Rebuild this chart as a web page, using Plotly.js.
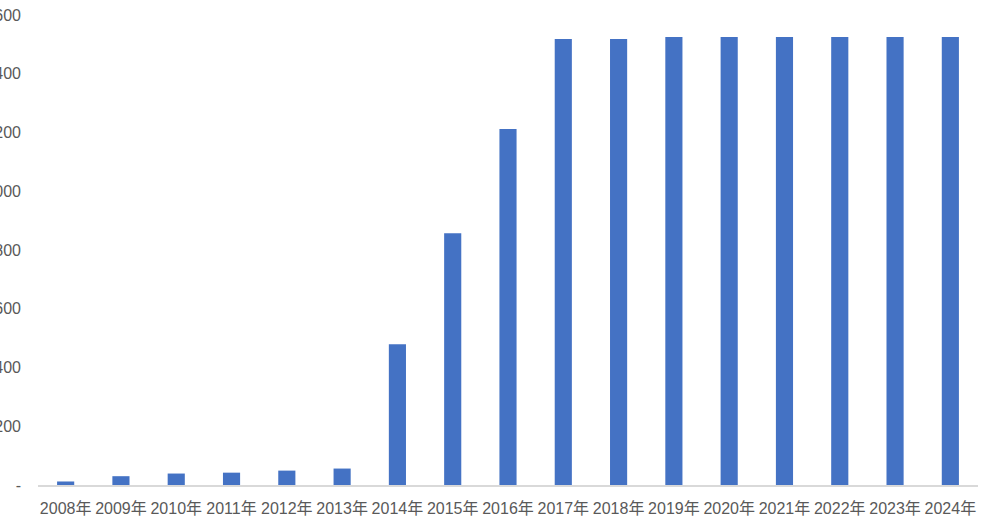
<!DOCTYPE html>
<html>
<head>
<meta charset="utf-8">
<script src="https://cdn.plot.ly/plotly-3.0.1.min.js"></script>
<style>
  html, body { margin: 0; padding: 0; background: #fff; overflow: hidden; }
  #wrap { position: relative; width: 987px; height: 521px; overflow: hidden; }
  #chart { position: absolute; left: -40px; top: 0; width: 1027px; height: 521px; }
</style>
</head>
<body>
<div id="wrap"><div id="chart"></div></div>
<script>
const years = ["2008年","2009年","2010年","2011年","2012年","2013年","2014年","2015年","2016年","2017年","2018年","2019年","2020年","2021年","2022年","2023年","2024年"];
const values = [12, 30, 39, 42, 49, 56, 479, 857, 1212, 1518, 1518, 1525, 1525, 1525, 1525, 1525, 1525];
const yTickVals = [0, 200, 400, 600, 800, 1000, 1200, 1400, 1600];
const yTickText = ["-", "200", "400", "600", "800", "1,000", "1,200", "1,400", "1,600"];

const font = '"Liberation Sans", "Noto Sans CJK SC", sans-serif';

Plotly.newPlot('chart', [{
  type: 'bar',
  x: years,
  y: values,
  marker: { color: '#4472C4' },
  hoverinfo: 'none'
}], {
  width: 1027,
  height: 521,
  margin: { l: 78, r: 9, t: 15, b: 36 },
  paper_bgcolor: '#ffffff',
  plot_bgcolor: '#ffffff',
  bargap: 0.69,
  showlegend: false,
  font: { family: font, size: 16, color: '#595959' },
  xaxis: {
    type: 'category',
    showgrid: false,
    showline: true,
    linecolor: '#d9d9d9',
    linewidth: 2,
    ticks: '',
    ticklabelstandoff: 8,
    tickfont: { family: font, size: 16, color: '#595959' },
    zeroline: false,
    fixedrange: true
  },
  yaxis: {
    range: [0, 1600],
    showgrid: false,
    showline: false,
    zeroline: false,
    ticks: '',
    tickvals: yTickVals,
    ticktext: yTickText,
    ticklabelstandoff: 16,
    tickfont: { family: font, size: 16, color: '#595959' },
    fixedrange: true
  }
}, { staticPlot: true, displayModeBar: false });
</script>
</body>
</html>
